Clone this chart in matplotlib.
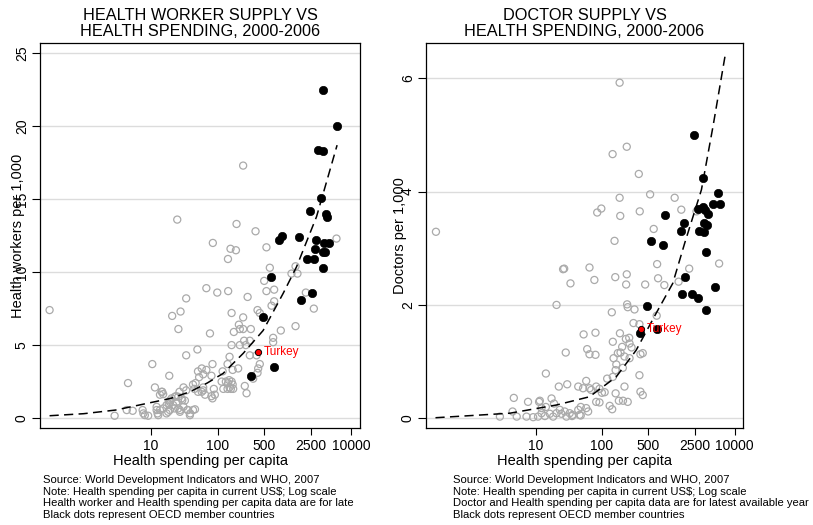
import matplotlib
matplotlib.use('Agg')
import matplotlib.pyplot as plt
from matplotlib.ticker import NullLocator, FixedLocator, FixedFormatter

plt.rcParams['font.family'] = ['Liberation Sans', 'DejaVu Sans']

# ---------------- Left panel: health workers ----------------
hw_other_spend = [241, 25, 192, 369, 5970, 85, 156, 188, 537, 143,
                  603, 1460, 1270, 1560, 497, 68, 99, 144, 537, 700, 34, 281, 700, 640, 2080, 2740,
                  0.31, 28, 21, 162, 395, 427, 26, 77, 175, 215, 241, 208, 241, 314, 880, 1460,
                  676, 676, 249, 303, 162, 215, 264, 50, 34, 303, 382, 151, 10.6, 84, 141,
                  58, 68, 51, 168, 203, 119, 427, 404, 395, 19, 53, 61, 81, 115, 144, 162, 151,
                  122, 171, 255, 271, 4.6, 11.6, 14.9, 13.8, 31, 34, 27, 24, 19.4, 43, 51, 61,
                  65, 81, 91, 61, 2.9, 4.4, 5.4, 7.6, 7.8, 9.2, 12.3, 12.3, 12.7, 15.4, 17.3,
                  18.3, 19.4, 21.7, 24.4, 25.8, 27.4, 31, 32.5, 36, 39, 43, 29, 23, 8.2, 13.8,
                  13, 17.3, 19.4, 23, 27.4, 35.7, 46, 38.6, 20.6, 25.8, 29.7, 18.7, 14.6, 15.4,
                  47, 45, 58, 88, 84, 133, 149, 141, 158, 168, 340]
hw_other_workers = [17.3, 13.6, 13.3, 12.8, 12.3, 12.0, 11.6, 11.5, 11.7, 10.9,
                    10.3, 10.4, 9.9, 9.9, 9.4, 8.9, 8.6, 8.7, 8.7, 8.8, 8.2, 8.3, 8.0, 7.7, 8.6, 7.5,
                    7.4, 7.3, 7.0, 7.2, 7.4, 7.2, 6.1, 5.8, 5.9, 6.1, 6.1, 6.4, 6.9, 6.1, 6.0, 6.3,
                    5.5, 5.2, 5.3, 5.3, 5.0, 5.0, 5.0, 4.7, 4.3, 4.3, 4.3, 4.2, 3.7, 3.7, 3.7,
                    3.4, 3.3, 3.2, 3.3, 3.4, 3.2, 3.7, 3.4, 3.1, 2.9, 2.8, 3.0, 2.9, 2.5, 2.4, 2.5, 2.1,
                    2.0, 2.0, 2.2, 1.7, 2.4, 2.1, 1.8, 1.6, 2.1, 1.9, 1.8, 1.5, 1.2, 2.3, 1.8, 1.9,
                    1.6, 1.5, 1.6, 2.1, 0.16, 0.55, 0.5, 0.55, 0.32, 0.16, 0.77, 0.55, 0.32, 0.66, 0.89,
                    0.43, 1.1, 0.89, 1.1, 0.66, 0.43, 0.77, 1.2, 0.55, 0.32, 0.55, 1.35, 1.46, 0.2, 0.55,
                    0.2, 0.32, 0.55, 0.66, 0.55, 0.55, 0.6, 0.2, 1.35, 1.46, 1.23, 1.0, 1.8, 1.64,
                    2.4, 2.0, 1.8, 2.0, 1.35, 2.5, 2.6, 2.0, 2.0, 2.3, 2.7]
hw_oecd_spend = [3770, 6100, 3210, 3770, 3480, 2440, 4240, 4100, 920, 830, 1650, 2930, 3860,
                 4540, 2830, 3770, 4000, 2170, 2740, 3770, 618, 2530, 1750, 479, 692, 321]
hw_oecd_workers = [22.5, 20.0, 18.4, 18.3, 15.05, 14.2, 13.8, 14.0, 12.5, 12.2, 12.4, 12.2, 12.0,
                   12.0, 11.6, 11.4, 11.4, 10.9, 10.9, 10.3, 9.7, 8.6, 8.1, 6.9, 3.5, 2.9]
hw_turkey_spend = [404]
hw_turkey_workers = [4.5]
hw_fit_spend = [0.31, 1, 3, 8.7, 20, 38.6, 70, 121, 241, 479, 953, 1510, 3006, 6095]
hw_fit_workers = [0.16, 0.3, 0.55, 1.0, 1.35, 1.8, 2.4, 3.06, 4.43, 6.0, 8.54, 10.36, 13.8, 18.7]

# ---------------- Right panel: doctors ----------------
doc_other_spend = [185, 145, 237, 360, 0.315, 185, 533, 1250, 85, 98, 189, 372, 1574, 2670, 604, 155,
                   26, 27, 65, 680, 2070, 5850, 33.6, 77, 159, 237, 232, 449, 703, 873, 1432,
                   240, 245, 310, 141, 670, 299, 368, 20.7, 53, 80, 187, 146, 258, 261, 202, 191,
                   150, 174, 60, 65, 80, 28.5, 219, 261, 381, 413, 14.3, 161, 146, 207, 368,
                   22.4, 30, 44, 52, 58, 65, 69, 82, 92, 110, 161, 219, 381, 413, 82, 92, 131,
                   180, 245, 143, 48, 58, 62, 48, 35.5, 4.7, 7.7, 11.3, 14.3, 17.4, 19, 2.9, 4.5,
                   5.2, 7.3, 9.2, 10.9, 12.3, 13.8, 16.4, 18.4, 20.7, 23.2, 24.5, 27.5, 29.2,
                   32.7, 36, 44, 46, 11.6, 12.3, 208, 100, 120, 230, 280, 165]
doc_other_doctors = [5.92, 4.66, 4.79, 4.31, 3.29, 3.89, 3.95, 3.89, 3.63, 3.7, 3.57, 3.65, 3.68, 3.65, 3.34, 3.13,
                     2.63, 2.64, 2.66, 2.72, 2.64, 2.73, 2.38, 2.44, 2.49, 2.54, 2.36, 2.36, 2.47, 2.35, 2.41,
                     2.01, 1.96, 1.92, 1.87, 1.81, 1.68, 1.66, 2.0, 1.48, 1.51, 1.5, 1.35, 1.42, 1.32, 1.26, 1.16,
                     1.06, 1.15, 1.22, 1.13, 1.12, 1.16, 1.09, 1.06, 1.13, 1.15, 0.79, 0.85, 0.73, 0.89, 0.76,
                     0.56, 0.6, 0.56, 0.53, 0.66, 0.53, 0.5, 0.56, 0.52, 0.46, 0.44, 0.56, 0.47, 0.41, 0.29, 0.28, 0.22,
                     0.31, 0.29, 0.16, 0.2, 0.18, 0.12, 0.05, 0.04, 0.36, 0.29, 0.29, 0.2, 0.35, 0.26, 0.03, 0.12,
                     0.03, 0.03, 0.02, 0.03, 0.09, 0.04, 0.08, 0.03, 0.09, 0.15, 0.08, 0.12, 0.03,
                     0.09, 0.06, 0.15, 0.06, 0.31, 0.18, 0.31, 0.45, 0.7, 1.4, 1.25, 0.95]
doc_oecd_spend = [2466, 3365, 5650, 4750, 5990, 2770, 3290, 3610, 4000, 904, 1746, 3480, 3830, 1574,
                  2860, 3480, 552, 824, 3690, 1807, 5050, 1630, 2275, 2800, 481, 3690, 381, 680]
doc_oecd_doctors = [5.0, 4.23, 3.97, 3.78, 3.78, 3.7, 3.72, 3.68, 3.6, 3.59, 3.45, 3.44, 3.41, 3.3,
                    3.3, 3.28, 3.13, 3.05, 2.94, 2.5, 2.31, 2.2, 2.2, 2.12, 1.98, 1.91, 1.5, 1.57]
doc_turkey_spend = [391]
doc_turkey_doctors = [1.58]
doc_fit_spend = [0.31, 4.1, 20.7, 65, 164, 328, 655, 1170, 1771, 3164, 4732, 7160]
doc_fit_doctors = [0.01, 0.09, 0.235, 0.38, 0.73, 1.2, 1.85, 2.38, 3.09, 4.03, 5.15, 6.38]

xticks = [10, 100, 500, 2500, 10000]
xticklabels = ['10', '100', '500', '2500', '10000']

W, H = 813, 525
fig = plt.figure(figsize=(W / 100, H / 100), dpi=100)

GREY = '#aaaaaa'
GRID = '#dcdcdc'


def make_axes(left_px, right_px, ylim, yticks, title, ylabel, ylabel_x_px,
              other_x, other_y, oecd_x, oecd_y, tk_x, tk_y, fit_x, fit_y, tk_text_off):
    top_px, bottom_px = 43, 428
    ax = fig.add_axes([left_px / W, 1 - bottom_px / H, (right_px - left_px) / W,
                       (bottom_px - top_px) / H])
    ax.set_xscale('log')
    ax.set_xlim(0.223, 13400)
    ax.set_ylim(*ylim)
    ax.xaxis.set_major_locator(FixedLocator(xticks))
    ax.xaxis.set_major_formatter(FixedFormatter(xticklabels))
    ax.xaxis.set_minor_locator(NullLocator())
    ax.set_yticks(yticks)
    ax.set_yticklabels([str(v) for v in yticks])
    ax.yaxis.grid(True, color=GRID, lw=1.0)
    ax.set_axisbelow(True)
    for s in ax.spines.values():
        s.set_linewidth(0.9)
        s.set_color('black')
    ax.tick_params(axis='x', direction='out', length=5, width=0.8, labelsize=10, pad=3)
    ax.tick_params(axis='y', direction='out', length=6, width=0.8, labelsize=10, pad=2,
                   labelrotation=90)
    for t in ax.get_yticklabels():
        t.set_va('center')

    ax.scatter(other_x, other_y, s=26, facecolors='none', edgecolors=GREY, linewidths=0.9, zorder=2)
    ax.plot(fit_x, fit_y, color='black', lw=1.1, linestyle=(0, (6, 3.5)), zorder=3)
    ax.scatter(oecd_x, oecd_y, s=36, color='black', edgecolors='black', linewidths=0.5, zorder=4)
    ax.scatter(tk_x, tk_y, s=20, color='red', edgecolors='black', linewidths=0.7, zorder=5)
    ax.annotate('Turkey', (tk_x[0], tk_y[0]), xytext=(tk_text_off, 0), textcoords='offset points',
                color='red', fontsize=8.5, va='center', ha='left', zorder=6)

    ax.set_xlabel('Health spending per capita', fontsize=10.5)
    ax.xaxis.label.set_va('center')
    ax.xaxis.set_label_coords(0.5, (bottom_px - 461) / (bottom_px - top_px))
    ax.set_ylabel(ylabel, fontsize=10.5)
    ax.yaxis.label.set_va('center')
    ax.yaxis.set_label_coords((ylabel_x_px - left_px) / (right_px - left_px), 0.5)

    cx = (left_px + right_px) / 2 / W
    fig.text(cx, 1 - 16 / H, title[0], ha='center', va='center', fontsize=11.7)
    fig.text(cx, 1 - 31.5 / H, title[1], ha='center', va='center', fontsize=11.7)
    return ax


make_axes(40, 360, (-0.68, 25.7), [0, 5, 10, 15, 20, 25],
          ('HEALTH WORKER SUPPLY VS', 'HEALTH SPENDING, 2000-2006'),
          'Health workers per 1,000', 18,
          hw_other_spend, hw_other_workers, hw_oecd_spend, hw_oecd_workers,
          hw_turkey_spend, hw_turkey_workers, hw_fit_spend, hw_fit_workers, 4)

make_axes(426, 743, (-0.171, 6.62), [0, 2, 4, 6],
          ('DOCTOR SUPPLY VS', 'HEALTH SPENDING, 2000-2006'),
          'Doctors per 1,000', 400,
          doc_other_spend, doc_other_doctors, doc_oecd_spend, doc_oecd_doctors,
          doc_turkey_spend, doc_turkey_doctors, doc_fit_spend, doc_fit_doctors, 4)

notes_left = ['Source: World Development Indicators and WHO, 2007',
              'Note: Health spending per capita in current US$; Log scale',
              'Health worker and Health spending per capita data are for late',
              'Black dots represent OECD member countries']
notes_right = ['Source: World Development Indicators and WHO, 2007',
               'Note: Health spending per capita in current US$; Log scale',
               'Doctor and Health spending per capita data are for latest available year',
               'Black dots represent OECD member countries']
line_y = [480, 491.7, 503.3, 515]
for txt, yy in zip(notes_left, line_y):
    fig.text(43 / W, 1 - yy / H, txt, ha='left', va='center', fontsize=8.1)
for txt, yy in zip(notes_right, line_y):
    fig.text(453 / W, 1 - yy / H, txt, ha='left', va='center', fontsize=8.1)

fig.savefig('out.png', dpi=100)
